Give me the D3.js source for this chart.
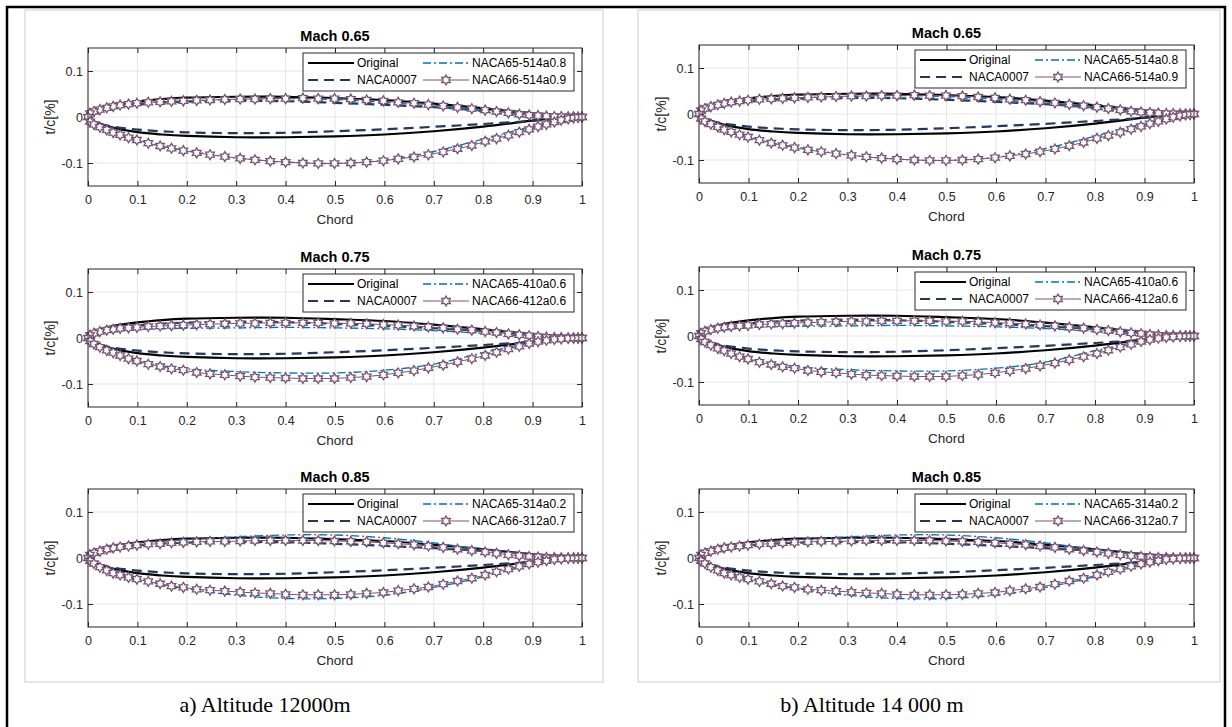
<!DOCTYPE html>
<html>
<head>
<meta charset="utf-8">
<script src="https://cdn.jsdelivr.net/npm/d3@7"></script>
<style>
  body { margin: 0; background: #fff; }
  svg { display: block; font-family: "Liberation Sans", Arial, sans-serif; }
</style>
</head>
<body>
<div id="chart"></div>
<script>
// ---- data ----
const machTitles = ["Mach 0.65", "Mach 0.75", "Mach 0.85"];
const naca65Names = ["NACA65-514a0.8", "NACA65-410a0.6", "NACA65-314a0.2"];
const naca66Names = ["NACA66-514a0.9", "NACA66-412a0.6", "NACA66-312a0.7"];
const captions = ["a) Altitude 12000m", "b) Altitude 14 000 m"];

const xTicks = [0, 0.1, 0.2, 0.3, 0.4, 0.5, 0.6, 0.7, 0.8, 0.9, 1];
const xTickLabels = ["0", "0.1", "0.2", "0.3", "0.4", "0.5", "0.6", "0.7", "0.8", "0.9", "1"];
const yTicks = [-0.1, 0, 0.1];
const yTickLabels = ["-0.1", "0", "0.1"];

// chord stations for the plain lines
const chordC = [0, 0.005, 0.0125, 0.025, 0.05, 0.1, 0.15, 0.2, 0.3, 0.4, 0.5, 0.6, 0.7, 0.8, 0.9, 0.95, 1];

const originalUpper = [0, 0.008, 0.013, 0.019, 0.026, 0.034, 0.039, 0.042, 0.044, 0.044, 0.041, 0.037, 0.029, 0.019, 0.008, 0.004, 0];
const originalLower = [0, -0.006, -0.010, -0.015, -0.023, -0.033, -0.038, -0.041, -0.044, -0.044, -0.042, -0.038, -0.031, -0.021, -0.008, -0.002, 0];
const naca0007Upper = [0, 0.0071, 0.0111, 0.0153, 0.0208, 0.0273, 0.0312, 0.0334, 0.0351, 0.0342, 0.0309, 0.0266, 0.0213, 0.0152, 0.0084, 0.0047, 0.0007];
const naca0007Lower = [0, -0.0071, -0.0111, -0.0153, -0.0208, -0.0273, -0.0312, -0.0334, -0.0351, -0.0342, -0.0309, -0.0266, -0.0213, -0.0152, -0.0084, -0.0047, -0.0007];

const naca65Upper065 = [0, 0.007, 0.011, 0.016, 0.022, 0.029, 0.033, 0.035, 0.038, 0.040, 0.038, 0.032, 0.023, 0.011, 0.002, 0.0005, 0];
const naca65Lower065 = [0, -0.010, -0.016, -0.022, -0.034, -0.050, -0.064, -0.073, -0.089, -0.098, -0.101, -0.094, -0.075, -0.048, -0.020, -0.008, 0];
const naca65Upper075 = [0, 0.005, 0.008, 0.011, 0.014, 0.018, 0.020, 0.021, 0.022, 0.023, 0.022, 0.020, 0.016, 0.010, 0.003, 0.001, 0];
const naca65Lower075 = [0, -0.008, -0.013, -0.020, -0.032, -0.050, -0.060, -0.067, -0.073, -0.076, -0.076, -0.070, -0.057, -0.032, -0.010, -0.003, 0];
const naca65Upper085 = [0, 0.007, 0.011, 0.016, 0.022, 0.030, 0.036, 0.040, 0.046, 0.050, 0.050, 0.044, 0.033, 0.018, 0.006, 0.002, 0];
const naca65Lower085 = [0, -0.008, -0.013, -0.019, -0.028, -0.045, -0.058, -0.067, -0.081, -0.088, -0.088, -0.081, -0.064, -0.041, -0.014, -0.005, 0];

// chord stations of the marked NACA66 points
const chordF = [0, 0.004, 0.012, 0.024, 0.038, 0.051, 0.065, 0.082, 0.099, 0.122, 0.146, 0.169, 0.193, 0.22, 0.247,
  0.277, 0.308, 0.338, 0.369, 0.4, 0.435, 0.466, 0.499, 0.532, 0.564, 0.598, 0.628, 0.66, 0.689, 0.719,
  0.748, 0.777, 0.804, 0.827, 0.851, 0.873, 0.893, 0.911, 0.928, 0.944, 0.958, 0.972, 0.983, 0.992, 1];

const naca66Upper065 = [0, 0.008, 0.012, 0.016, 0.020, 0.023, 0.026, 0.028, 0.030, 0.032, 0.033, 0.034, 0.035, 0.036, 0.037,
  0.038, 0.039, 0.039, 0.040, 0.040, 0.041, 0.040, 0.040, 0.039, 0.037, 0.035, 0.032, 0.030, 0.027, 0.024,
  0.021, 0.018, 0.015, 0.012, 0.009, 0.006, 0.004, 0.003, 0.002, 0.001, 0.001, 0.0005, 0.0003, 0.0001, 0];
const naca66Lower065 = [0, -0.010, -0.016, -0.022, -0.028, -0.034, -0.039, -0.045, -0.050, -0.057, -0.063, -0.068, -0.073, -0.078, -0.082,
  -0.086, -0.090, -0.093, -0.096, -0.098, -0.100, -0.101, -0.101, -0.100, -0.098, -0.095, -0.091, -0.087, -0.082, -0.076,
  -0.069, -0.062, -0.053, -0.047, -0.040, -0.033, -0.027, -0.021, -0.016, -0.011, -0.007, -0.004, -0.002, -0.001, 0];
const naca66Upper075 = [0, 0.006, 0.010, 0.014, 0.017, 0.019, 0.021, 0.022, 0.023, 0.025, 0.026, 0.027, 0.028, 0.029, 0.030,
  0.031, 0.032, 0.032, 0.033, 0.033, 0.033, 0.033, 0.032, 0.032, 0.031, 0.029, 0.028, 0.026, 0.024, 0.022,
  0.019, 0.017, 0.014, 0.012, 0.009, 0.007, 0.005, 0.003, 0.002, 0.001, 0.001, 0.0005, 0.0003, 0.0001, 0];
const naca66Lower075 = [0, -0.007, -0.013, -0.020, -0.027, -0.032, -0.038, -0.045, -0.050, -0.057, -0.062, -0.067, -0.070, -0.075, -0.078,
  -0.080, -0.083, -0.085, -0.086, -0.087, -0.088, -0.088, -0.088, -0.086, -0.084, -0.080, -0.076, -0.071, -0.065, -0.059,
  -0.052, -0.045, -0.038, -0.031, -0.024, -0.018, -0.012, -0.008, -0.005, -0.003, -0.002, -0.001, -0.0005, -0.0002, 0];
const naca66Upper085 = [0, 0.007, 0.011, 0.015, 0.019, 0.022, 0.024, 0.026, 0.028, 0.030, 0.031, 0.033, 0.034, 0.035, 0.036,
  0.036, 0.037, 0.038, 0.038, 0.038, 0.038, 0.038, 0.037, 0.036, 0.035, 0.033, 0.031, 0.029, 0.026, 0.023,
  0.019, 0.016, 0.013, 0.010, 0.007, 0.005, 0.003, 0.002, 0.001, 0.001, 0.0005, 0.0003, 0.0002, 0.0001, 0];
const naca66Lower085 = [0, -0.006, -0.012, -0.020, -0.027, -0.033, -0.037, -0.042, -0.046, -0.051, -0.056, -0.061, -0.064, -0.068, -0.070,
  -0.072, -0.074, -0.076, -0.077, -0.079, -0.080, -0.080, -0.080, -0.079, -0.077, -0.075, -0.071, -0.067, -0.063, -0.057,
  -0.050, -0.044, -0.037, -0.030, -0.024, -0.018, -0.013, -0.009, -0.006, -0.003, -0.002, -0.001, -0.0005, -0.0002, 0];

const naca65Upper = [naca65Upper065, naca65Upper075, naca65Upper085];
const naca65Lower = [naca65Lower065, naca65Lower075, naca65Lower085];
const naca66Upper = [naca66Upper065, naca66Upper075, naca66Upper085];
const naca66Lower = [naca66Lower065, naca66Lower075, naca66Lower085];

// ---- layout ----
const W = 1232, H = 727;
const axH = 138;
const panels = [
  { box: [25, 10, 578, 672], x0: 88, x1: 582, tops: [48, 269, 489], cx: 265 },
  { box: [638, 10, 582, 672], x0: 699, x1: 1194, tops: [45, 267, 489], cx: 872 }
];
const ink = "#262626";
const colOrig = "#000000", colN7 = "#22385f", col65 = "#0072BD", col66 = "#785474";

const svg = d3.select("#chart").append("svg")
  .attr("width", W).attr("height", H);

svg.append("rect").attr("width", W).attr("height", H).attr("fill", "#fff");

// outer frame
svg.append("rect")
  .attr("x", 7).attr("y", 7).attr("width", 1218).attr("height", 740)
  .attr("fill", "none").attr("stroke", "#000").attr("stroke-width", 2.5);

function hexagram(R) {
  const r = R / Math.sqrt(3);
  let s = "";
  for (let k = 0; k < 12; k++) {
    const a = -Math.PI / 2 + k * Math.PI / 6;
    const rr = k % 2 ? r : R;
    s += (k ? "L" : "M") + (rr * Math.cos(a)).toFixed(2) + "," + (rr * Math.sin(a)).toFixed(2);
  }
  return s + "Z";
}
const star = hexagram(5);

function outline(xs, up, lo) {
  const pts = [];
  for (let k = xs.length - 1; k >= 0; k--) pts.push([xs[k], up[k]]);
  for (let k = 1; k < xs.length; k++) pts.push([xs[k], lo[k]]);
  return pts;
}

panels.forEach((p, pi) => {
  const pg = svg.append("g");

  pg.append("rect")
    .attr("x", p.box[0]).attr("y", p.box[1]).attr("width", p.box[2]).attr("height", p.box[3])
    .attr("fill", "#fff").attr("stroke", "#dedede").attr("stroke-width", 1.5);

  pg.append("text")
    .attr("x", p.cx).attr("y", 712)
    .attr("text-anchor", "middle")
    .style("font-family", "'Liberation Serif', 'Times New Roman', serif")
    .style("font-size", "22px")
    .attr("fill", "#000")
    .text(captions[pi]);

  p.tops.forEach((top, i) => {
    const x = d3.scaleLinear().domain([0, 1]).range([p.x0, p.x1]);
    const y = d3.scaleLinear().domain([-0.15, 0.15]).range([top + axH, top]);
    const g = pg.append("g");

    // grid
    g.selectAll(".gx").data(xTicks).enter().append("line")
      .attr("x1", d => x(d)).attr("x2", d => x(d))
      .attr("y1", top).attr("y2", top + axH)
      .attr("stroke", "#e5e5e5").attr("stroke-width", 1);
    g.selectAll(".gy").data(yTicks).enter().append("line")
      .attr("x1", p.x0).attr("x2", p.x1)
      .attr("y1", d => y(d)).attr("y2", d => y(d))
      .attr("stroke", "#e5e5e5").attr("stroke-width", 1);

    // axes (inward ticks, mirrored)
    const styleAxis = a => {
      a.select(".domain").remove();
      a.selectAll(".tick line").attr("stroke", ink);
      a.selectAll(".tick text").attr("fill", ink).style("font-size", "12.5px");
    };
    g.append("g").attr("transform", `translate(0,${top + axH})`)
      .call(d3.axisBottom(x).tickValues(xTicks).tickFormat((d, k) => xTickLabels[k])
        .tickSizeInner(-5).tickSizeOuter(0).tickPadding(9))
      .call(styleAxis);
    g.append("g").attr("transform", `translate(0,${top})`)
      .call(d3.axisTop(x).tickValues(xTicks).tickFormat("").tickSizeInner(-5).tickSizeOuter(0))
      .call(styleAxis);
    g.append("g").attr("transform", `translate(${p.x0},0)`)
      .call(d3.axisLeft(y).tickValues(yTicks).tickFormat((d, k) => yTickLabels[k])
        .tickSizeInner(-5).tickSizeOuter(0).tickPadding(5))
      .call(styleAxis);
    g.append("g").attr("transform", `translate(${p.x1},0)`)
      .call(d3.axisRight(y).tickValues(yTicks).tickFormat("").tickSizeInner(-5).tickSizeOuter(0))
      .call(styleAxis);

    // curves
    const line = d3.line().x(d => x(d[0])).y(d => y(d[1])).curve(d3.curveCatmullRom.alpha(0.5));
    const lineLin = d3.line().x(d => x(d[0])).y(d => y(d[1]));

    g.append("path").attr("d", line(outline(chordC, originalUpper, originalLower)))
      .attr("fill", "none").attr("stroke", colOrig).attr("stroke-width", 2.2);
    g.append("path").attr("d", line(outline(chordC, naca0007Upper, naca0007Lower)))
      .attr("fill", "none").attr("stroke", colN7).attr("stroke-width", 2.2)
      .attr("stroke-dasharray", "10,6");
    g.append("path").attr("d", line(outline(chordC, naca65Upper[i], naca65Lower[i])))
      .attr("fill", "none").attr("stroke", col65).attr("stroke-width", 1.3)
      .attr("stroke-dasharray", "8,3,2,3");
    const pts66 = outline(chordF, naca66Upper[i], naca66Lower[i]);
    g.append("path").attr("d", lineLin(pts66))
      .attr("fill", "none").attr("stroke", col66).attr("stroke-width", 1);
    g.selectAll(".m").data(pts66).enter().append("path")
      .attr("d", star)
      .attr("transform", d => `translate(${x(d[0])},${y(d[1])})`)
      .attr("fill", "#fff").attr("stroke", col66).attr("stroke-width", 1.3);

    // box
    g.append("rect").attr("x", p.x0).attr("y", top).attr("width", p.x1 - p.x0).attr("height", axH)
      .attr("fill", "none").attr("stroke", ink).attr("stroke-width", 1);

    // labels
    g.append("text").attr("x", (p.x0 + p.x1) / 2).attr("y", top - 7)
      .attr("text-anchor", "middle").style("font-size", "14.5px").style("font-weight", "bold")
      .attr("fill", "#000").text(machTitles[i]);
    g.append("text").attr("x", (p.x0 + p.x1) / 2).attr("y", top + axH + 38)
      .attr("text-anchor", "middle").style("font-size", "13.5px")
      .attr("fill", ink).text("Chord");
    g.append("text").attr("transform", `translate(${p.x0 - 33},${top + axH / 2}) rotate(-90)`)
      .attr("text-anchor", "middle").style("font-size", "14px")
      .attr("fill", ink).text("t/c[%]");

    // legend
    const lw = 271, lh = 38;
    const lx = p.x1 - 8 - lw, ly = top + 5;
    const lg = g.append("g").attr("transform", `translate(${lx},${ly})`);
    lg.append("rect").attr("width", lw).attr("height", lh)
      .attr("fill", "#fff").attr("stroke", ink).attr("stroke-width", 1);
    const items = [
      { name: "Original", c: colOrig, w: 2.2, dash: null, col: 0, row: 0 },
      { name: "NACA0007", c: colN7, w: 2.2, dash: "10,6", col: 0, row: 1 },
      { name: naca65Names[i], c: col65, w: 1.3, dash: "8,3,2,3", col: 1, row: 0 },
      { name: naca66Names[i], c: col66, w: 1, dash: null, col: 1, row: 1, mark: true }
    ];
    items.forEach(it => {
      const ox = it.col ? 120 : 5, oy = it.row ? 27 : 10;
      lg.append("line").attr("x1", ox).attr("x2", ox + 46).attr("y1", oy).attr("y2", oy)
        .attr("stroke", it.c).attr("stroke-width", it.w)
        .attr("stroke-dasharray", it.dash);
      if (it.mark) {
        lg.append("path").attr("d", star).attr("transform", `translate(${ox + 23},${oy})`)
          .attr("fill", "#fff").attr("stroke", it.c).attr("stroke-width", 1.3);
      }
      lg.append("text").attr("x", ox + 49).attr("y", oy + 4.3)
        .style("font-size", "12px").attr("fill", "#000").text(it.name);
    });
  });
});
</script>
</body>
</html>
